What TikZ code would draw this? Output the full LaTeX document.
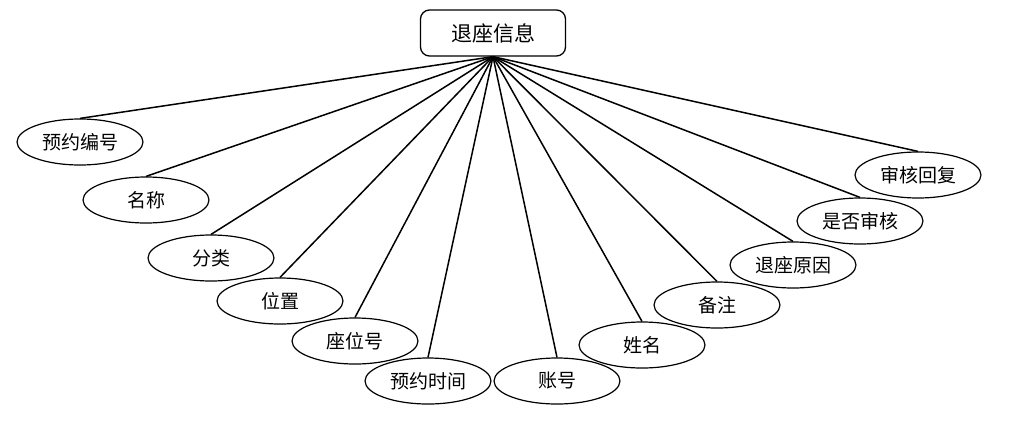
\documentclass[tikz,border=0pt]{standalone}
\usepackage{fontspec}
\setmainfont{Noto Sans CJK SC}
\usetikzlibrary{shapes.geometric}
\tikzset{
  attr/.style={draw, ellipse, line width=1.2pt, fill=white, minimum width=126pt, minimum height=46pt, inner sep=0pt, font=\fontsize{19}{22}\selectfont},
  ent/.style={draw, rounded corners=9pt, line width=1.3pt, fill=white, minimum width=145pt, minimum height=46pt, inner sep=0pt, font=\fontsize{21}{25}\selectfont},
  link/.style={line width=1.5pt}
}
\begin{document}
\begin{tikzpicture}[x=1pt,y=-1pt]
\useasboundingbox (0,0) rectangle (1023,421);
\node[ent] (top) at (493,33) {退座信息};
\node[attr] (a1) at (80,142) {预约编号};
\node[attr] (a2) at (146,200) {名称};
\node[attr] (a3) at (211,258) {分类};
\node[attr] (a4) at (280,301) {位置};
\node[attr] (a5) at (355,341) {座位号};
\node[attr] (a6) at (428,381) {预约时间};
\node[attr] (a7) at (557,381) {账号};
\node[attr] (a8) at (642,345) {姓名};
\node[attr] (a9) at (717,305) {备注};
\node[attr] (a10) at (793,265) {退座原因};
\node[attr] (a11) at (860,221) {是否审核};
\node[attr] (a12) at (918,175) {审核回复};
\foreach \i in {1,...,12} { \draw[link] (top.south) -- (a\i.north); }
\end{tikzpicture}
\end{document}
